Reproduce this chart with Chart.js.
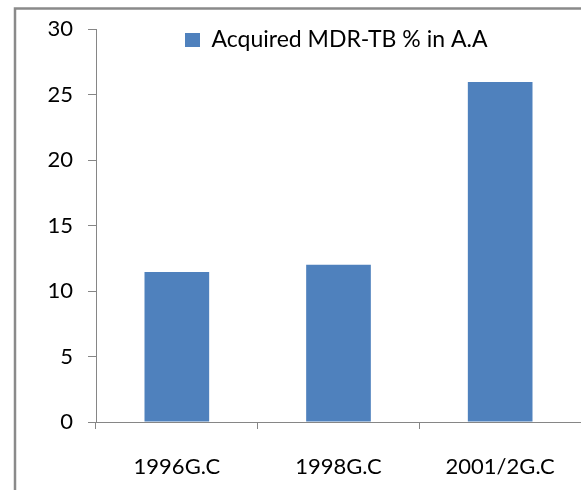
<!DOCTYPE html>
<html><head><meta charset="utf-8">
<script src="https://cdn.jsdelivr.net/npm/chart.js@4/dist/chart.umd.min.js"></script>
<style>html,body{margin:0;padding:0;background:#fff;}#wrap{position:absolute;left:0;top:0;width:581px;height:490px;}</style>
</head><body><div id="wrap"><canvas id="c" width="581" height="490"></canvas></div>
<script>
const categories = ["1996G.C", "1998G.C", "2001/2G.C"];
const seriesName = "Acquired MDR-TB % in A.A";
const values = [11.45, 12.0, 25.95];
const yTicks = [0, 5, 10, 15, 20, 25, 30];

const FONT = "Lato, 'Open Sans', sans-serif";
const frame = {
  id: 'frame',
  beforeDraw(chart){
    const ctx = chart.ctx;
    ctx.save();
    ctx.fillStyle = '#fff';
    ctx.fillRect(0,0,chart.width,chart.height);
    ctx.strokeStyle = '#8a8a8a';
    ctx.lineWidth = 2.5;
    ctx.strokeRect(15, 8.5, 580, 500);
    ctx.restore();
  },
  afterLayout(chart){
    const l = chart.legend;
    if (!l) return;
    const w = l.width, h = l.height;
    l.left = 185; l.right = 185 + w;
    l.top = 28.5; l.bottom = 28.5 + h;
  }
};
new Chart(document.getElementById('c'), {
  type: 'bar',
  data: { labels: categories, datasets: [{ label: seriesName, data: values, backgroundColor: '#4F81BD', borderWidth: 0, categoryPercentage: 1, barPercentage: 0.4 }] },
  options: {
    responsive: false, animation: false,
    layout: { padding: { left: 0, right: 0, top: 29, bottom: 0 } },
    plugins: {
      legend: { position: 'chartArea', align: 'start',
        labels: { font: { family: FONT, size: 23 }, color: '#000', boxWidth: 15, boxHeight: 14, padding: 0 } },
      tooltip: { enabled: false }
    },
    scales: {
      x: {
        afterFit(s){ s.height = 68; },
        grid: { display: true, drawOnChartArea: false, offset: true, tickLength: 7, color: '#868686', lineWidth: 1 },
        border: { display: true, color: '#868686', width: 1 },
        ticks: { font: { family: FONT, size: 22 }, color: '#000', padding: 25 }
      },
      y: {
        min: 0, max: 30,
        afterFit(s){ s.width = 96; },
        afterBuildTicks(s){ s.ticks = yTicks.map(v => ({ value: v })); },
        grid: { display: true, drawOnChartArea: false, tickLength: 8, color: '#868686' },
        border: { display: true, color: '#868686', width: 1 },
        ticks: { font: { family: FONT, size: 22 }, color: '#000', padding: 15 }
      }
    }
  },
  plugins: [frame]
});
</script></body></html>
